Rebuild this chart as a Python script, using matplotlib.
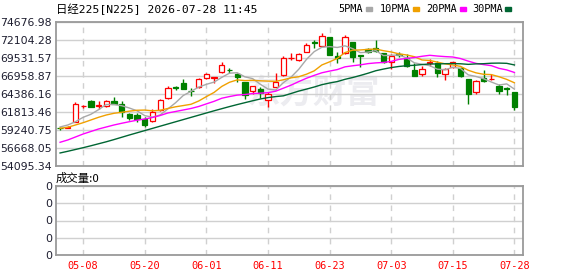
import matplotlib
matplotlib.use("Agg")
import matplotlib.pyplot as plt
from matplotlib.patches import Rectangle

# --- DATA ---
opens = [59520, 59520, 60384, 62650, 63391, 62680, 62588, 63348, 62918, 61441,
         61340, 60725, 60524, 62057, 63736, 65300, 65972, 64800, 65313, 66604,
         66650, 67464, 67850, 67220, 66030, 64825, 65026, 63492, 65399, 67034,
         69450, 69228, 70418, 71750, 71278, 72570, 69844, 70275, 71852, 69900,
         70800, 70905, 70188, 68897, 70100, 69560, 67794, 67220, 68840, 68754,
         67177, 68181, 68037, 66460, 64639, 66604, 66500, 65542, 65200, 64596]
highs = [59650, 59700, 63163, 62750, 63492, 63350, 63490, 63922, 63391, 61584,
         61676, 61010, 62158, 63592, 65499, 65499, 66503, 65170, 66690, 67406,
         66800, 68898, 68124, 67406, 66030, 65499, 65313, 64682, 67320, 69801,
         70188, 70188, 71622, 72096, 73142, 72570, 70418, 72813, 71852, 69900,
         70900, 72096, 70275, 70045, 70418, 70045, 68754, 68367, 69371, 69127,
         68037, 68984, 68267, 66460, 66360, 67794, 67177, 65786, 65399, 64596]
lows = [59250, 59450, 60337, 62350, 62531, 62200, 62488, 62918, 61054, 60624,
        60380, 59663, 60380, 61914, 63635, 64926, 65026, 64065, 65170, 66460,
        65900, 67320, 67320, 66030, 63592, 64309, 63821, 62531, 65313, 66933,
        69228, 69127, 70332, 70905, 71235, 69945, 68754, 70088, 68898, 68267,
        70200, 70418, 68840, 67894, 69700, 68181, 66976, 66976, 68367, 66832,
        66360, 68124, 66747, 62918, 64309, 66116, 66360, 64352, 64209, 62057]
closes = [59430, 59620, 62918, 62700, 62531, 62750, 63348, 62918, 61815, 60868,
          60725, 59907, 61814, 63448, 65170, 65150, 65112, 64750, 66503, 67177,
          66750, 68511, 67750, 66832, 64208, 65499, 64452, 64309, 66116, 69514,
          69500, 70088, 71379, 71650, 72669, 69945, 69470, 72570, 69614, 69800,
          70330, 70561, 68984, 69844, 69950, 68367, 66976, 67894, 68897, 67406,
          67894, 68897, 66976, 64309, 66260, 66260, 66550, 64825, 65100, 62531]

ma5 = [59620, 59906, 60380, 61010, 61440, 62104, 62849, 62849, 62672, 62340,
       61935, 61247, 61026, 61352, 62213, 63098, 64139, 64726, 65337, 65738,
       66058, 66738, 67338, 67404, 66810, 66560, 65748, 65060, 64917, 65978,
       66778, 67905, 69319, 70426, 71057, 71146, 71023, 71261, 70854, 70280,
       70357, 70575, 69858, 69904, 69934, 69541, 68824, 68606, 68417, 67908,
       67813, 68198, 68014, 67096, 66867, 66540, 66071, 65641, 65799, 65053]
ma10 = [59434, 59577, 59907, 60237, 60624, 61010, 61340, 61584, 61728, 61890,
        62019, 62048, 61938, 62012, 62276, 62516, 62693, 62876, 63345, 63976,
        64578, 65439, 66032, 66371, 66274, 66309, 66243, 66199, 66160, 66394,
        66669, 66827, 67190, 67672, 68518, 68962, 69464, 70290, 70640, 70669,
        70752, 70799, 70559, 70379, 70107, 69949, 69700, 69232, 69160, 68921,
        68677, 68511, 68310, 67757, 67388, 67177, 67134, 66827, 66448, 65960]
ma20 = [57426, 57756, 58186, 58616, 58975, 59333, 59620, 59907, 60151, 60380,
        60595, 60767, 60982, 61269, 61628, 61843, 62058, 62273, 62560, 62933,
        63299, 63743, 63985, 64191, 64275, 64413, 64468, 64538, 64753, 65185,
        65624, 66133, 66611, 67021, 67396, 67636, 67854, 68245, 68400, 68531,
        68710, 68813, 68875, 69025, 69312, 69456, 69582, 69761, 69900, 69795,
        69714, 69655, 69435, 69068, 68747, 68563, 68417, 68030, 67804, 67441]
ma30 = [55892, 56135, 56393, 56652, 56924, 57211, 57498, 57813, 58143, 58473,
        58788, 59104, 59419, 59735, 60050, 60366, 60681, 60997, 61312, 61628,
        61943, 62244, 62545, 62832, 63105, 63377, 63635, 63836, 63979, 64087,
        64422, 64771, 65053, 65351, 65689, 65929, 66133, 66455, 66715, 67013,
        67333, 67688, 67927, 68140, 68300, 68407, 68469, 68574, 68654, 68661,
        68699, 68712, 68686, 68602, 68671, 68696, 68766, 68783, 68749, 68517]
volume = [0] * 60

y_ticks = [54095.34, 56668.05, 59240.75, 61813.46, 64386.16,
           66958.87, 69531.57, 72104.28, 74676.98]
date_pos = [3, 11, 19, 27, 35, 43, 51, 59]
date_labels = ['05-08', '05-20', '06-01', '06-11', '06-23', '07-03', '07-15', '07-28']

ma_names = ['5PMA', '10PMA', '20PMA', '30PMA']
ma_colors = ['#a8a8a8', '#f0a000', '#ff00ff', '#006633']

RED = '#ff0000'
GREEN = '#008000'
GRID = '#d0d0d0'
SPINE = '#9a9a9a'
TXT = '#1e1e30'
CJK = ['DejaVu Sans Mono', 'Noto Sans CJK SC']

W, H = 578, 276
fig = plt.figure(figsize=(W / 100, H / 100), dpi=100)

def box(l, t, r, b):
    return [l / W, 1 - b / H, (r - l) / W, (b - t) / H]

ax = fig.add_axes(box(56, 22, 522.5, 165.5))
axv = fig.add_axes(box(56, 186, 522.5, 255))

n = len(closes)
xs = list(range(n))

# watermark
ax.text(0.55, 0.5, '东方财富', transform=ax.transAxes, ha='center', va='center',
        fontsize=24, fontweight='bold', color='#ececf0',
        family=['Noto Sans CJK SC'], zorder=0)

# candles
up = [c >= o for o, c in zip(opens, closes)]
ax.vlines(xs, lows, highs, colors=[RED if u else GREEN for u in up], lw=1, zorder=3)
bottoms = [min(o, c) for o, c in zip(opens, closes)]
heights = [max(abs(c - o), 30) for o, c in zip(opens, closes)]
ax.bar(xs, heights, bottom=bottoms, width=0.68,
       facecolor=['white' if u else GREEN for u in up],
       edgecolor=[RED if u else GREEN for u in up], linewidth=0.9, zorder=4)

# moving averages
for ma, col in zip([ma5, ma10, ma20, ma30], ma_colors):
    ax.plot(xs, ma, color=col, lw=1, zorder=5)

ax.set_xlim(-0.53, 60.05)
ax.set_ylim(y_ticks[0], y_ticks[-1])
ax.set_yticks(y_ticks)
ax.set_yticklabels([f'{v:.2f}' for v in y_ticks], fontsize=7.8, color=TXT)
ax.set_xticks(date_pos)
ax.set_xticklabels([])
ax.grid(axis='y', color=GRID, lw=1, ls='-', zorder=0)
ax.grid(axis='x', color=GRID, lw=1, ls=(0, (4, 4)), zorder=0)
ax.tick_params(length=0, pad=3)

# volume panel
axv.bar(xs, volume, width=0.68, color=GREEN)
axv.set_xlim(-0.53, 60.05)
axv.set_ylim(0, 1)
axv.set_yticks([0, 0.25, 0.5, 0.75, 1])
axv.set_yticklabels(['0'] * 5, fontsize=8, color=TXT)
axv.set_xticks(date_pos)
axv.set_xticklabels(date_labels, color=RED, fontsize=7.4, family='DejaVu Sans Mono')
axv.grid(axis='y', color=GRID, lw=1, ls='-')
axv.grid(axis='x', color=GRID, lw=1, ls=(0, (4, 4)))
axv.tick_params(length=0, pad=3)
axv.tick_params(axis='x', pad=4)

for a in (ax, axv):
    a.set_axisbelow(True)
    for s in a.spines.values():
        s.set_color(SPINE)
        s.set_linewidth(1.3)

# header texts
fig.text(56 / W, 1 - 9 / H, '日经225[N225] 2026-07-28 11:45', ha='left', va='center',
         fontsize=8.2, color='black', family=CJK)
fig.text(56 / W, 1 - 178 / H, '成交量:0', ha='left', va='center',
         fontsize=8.2, color='black', family=['Noto Sans CJK SC', 'DejaVu Sans'])

legend_x = [338, 380, 426, 472]
marker_x = [366, 413, 460, 505]
for name, col, tx, mx in zip(ma_names, ma_colors, legend_x, marker_x):
    fig.text(tx / W, 1 - 9 / H, name, ha='left', va='center', fontsize=7.4,
             color='black', family='DejaVu Sans Mono')
    fig.patches.append(Rectangle((mx / W, 1 - 10.5 / H), 6 / W, 3 / H,
                                 transform=fig.transFigure, color=col))

fig.savefig('out.png', dpi=100)
